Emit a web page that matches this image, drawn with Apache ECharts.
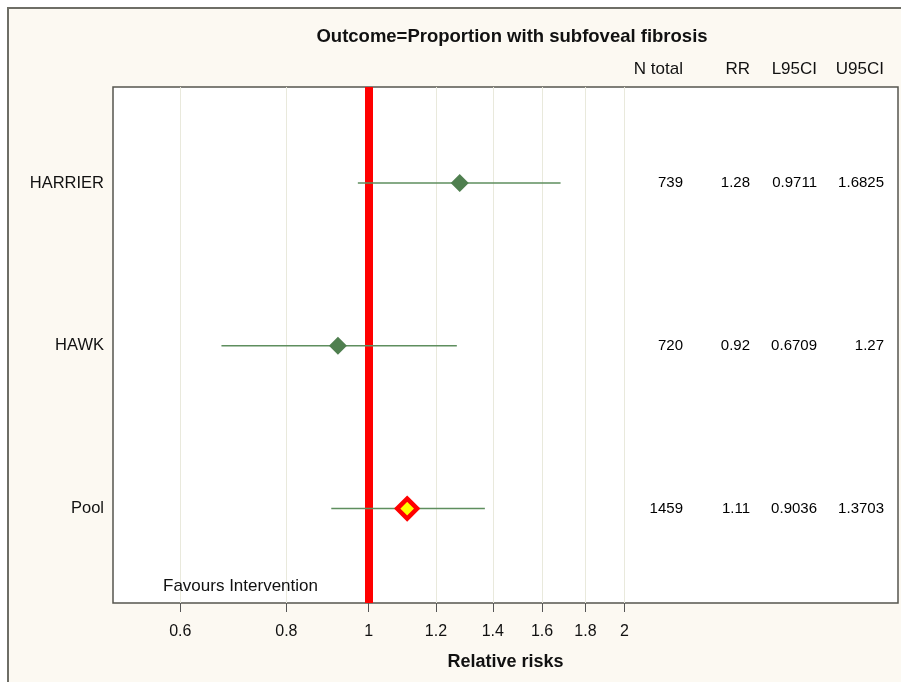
<!DOCTYPE html>
<html><head><meta charset="utf-8">
<script src="https://cdn.jsdelivr.net/npm/echarts@6/dist/echarts.min.js"></script>
<style>html,body{margin:0;padding:0;background:#fff}#c{width:901px;height:682px}</style>
</head><body><div id="c"></div>
<script>
const studies = ['HARRIER', 'HAWK', 'Pool'];
const nTotal = [739, 720, 1459];
const rr = [1.28, 0.92, 1.11];
const lower = [0.9711, 0.6709, 0.9036];
const upper = [1.6825, 1.27, 1.3703];
const rrText = ['1.28', '0.92', '1.11'];
const lowerText = ['0.9711', '0.6709', '0.9036'];
const upperText = ['1.6825', '1.27', '1.3703'];
const tableHeaders = ['N total', 'RR', 'L95CI', 'U95CI'];
const xTicks = [0.6, 0.8, 1, 1.2, 1.4, 1.6, 1.8, 2];
const nullValue = 1;

const FONT = 'Liberation Sans, Arial, sans-serif';
const rowOf = i => studies.length - i;

const ciData = studies.map((s, i) => [lower[i], upper[i], rowOf(i)]);
const studyPts = studies.map((s, i) => [rr[i], rowOf(i)]).slice(0, studies.length - 1);
const poolPt = [[rr[studies.length - 1], rowOf(studies.length - 1)]];
const cols = [nTotal.map(String), rrText, lowerText, upperText];
const tableData = [];
cols.forEach((col, c) => col.forEach((t, i) => tableData.push([c, rowOf(i), t])));

const chart = echarts.init(document.getElementById('c'), null, {renderer: 'canvas'});
chart.setOption({
  backgroundColor: '#ffffff',
  animation: false,
  title: {
    text: 'Outcome=Proportion with subfoveal fibrosis',
    left: 507, top: 22, textAlign: 'center',
    textStyle: {fontFamily: FONT, fontSize: 18.5, fontWeight: 'bold', color: '#111'}
  },
  graphic: [
    {type: 'rect', z: -100, shape: {x: 8, y: 8, width: 1000, height: 800},
     style: {fill: '#fcf9f2', stroke: '#6e6e66', lineWidth: 2}},
    {type: 'text', left: 163, top: 578, z: 100,
     style: {text: 'Favours Intervention', fontFamily: FONT, fontSize: 17, fill: '#111'}}
  ],
  grid: {left: 113, right: 3, top: 87, bottom: 79, show: true,
         backgroundColor: '#ffffff', borderColor: '#55554f', borderWidth: 1.5},
  xAxis: [{
    type: 'log', logBase: 10, min: 0.5, max: 4.2,
    axisLine: {show: false},
    axisTick: {show: true, length: 9, customValues: xTicks, lineStyle: {color: '#555'}},
    axisLabel: {customValues: xTicks, margin: 21, fontFamily: FONT, fontSize: 16, color: '#111',
                formatter: v => String(+(+v).toFixed(2))},
    splitLine: {show: true, lineStyle: {color: '#e9e9dc', width: 1}},
    minorTick: {show: false}, minorSplitLine: {show: false},
    name: 'Relative risks', nameLocation: 'middle', nameGap: 50,
    nameTextStyle: {fontFamily: FONT, fontSize: 18, fontWeight: 'bold', color: '#111'}
  }, {
    type: 'value', position: 'top', min: -8.507, max: 3.209,
    axisLine: {show: false}, axisTick: {show: false}, splitLine: {show: false},
    axisLabel: {customValues: [0, 1, 2, 3], margin: 9, align: 'right',
                fontFamily: FONT, fontSize: 17, color: '#111',
                formatter: v => tableHeaders[Math.round(v)]}
  }],
  yAxis: {
    type: 'value', min: 0.42, max: 3.59,
    axisLine: {show: false}, axisTick: {show: false}, splitLine: {show: false},
    axisLabel: {customValues: [1, 2, 3], margin: 9, fontFamily: FONT, fontSize: 16.5, color: '#111',
                formatter: v => studies[studies.length - Math.round(v)]}
  },
  series: [{
    type: 'custom', xAxisIndex: 0, data: ciData, z: 3,
    renderItem: (params, api) => {
      const a = api.coord([api.value(0), api.value(2)]);
      const b = api.coord([api.value(1), api.value(2)]);
      return {type: 'line', shape: {x1: a[0], y1: a[1], x2: b[0], y2: b[1]},
              style: {stroke: '#5e8e5e', lineWidth: 1.5}};
    },
    markLine: {
      silent: true, symbol: 'none', label: {show: false}, z: 2,
      lineStyle: {color: '#ff0000', width: 8, type: 'solid'},
      data: [{xAxis: nullValue}]
    }
  }, {
    type: 'scatter', xAxisIndex: 0, data: studyPts, symbol: 'diamond', symbolSize: 18, z: 5,
    itemStyle: {color: '#4f7f4f', opacity: 1}
  }, {
    type: 'scatter', xAxisIndex: 0, data: poolPt, symbol: 'diamond', symbolSize: 20, z: 6,
    itemStyle: {color: '#ffff00', borderColor: '#ff0000', borderWidth: 4.5, opacity: 1}
  }, {
    type: 'scatter', xAxisIndex: 1, data: tableData, symbolSize: 0, z: 7, silent: true,
    itemStyle: {opacity: 1},
    label: {show: true, position: 'left', distance: 0, fontFamily: FONT, fontSize: 15, color: '#000',
            opacity: 1, formatter: p => p.data[2]}
  }]
});
</script></body></html>
